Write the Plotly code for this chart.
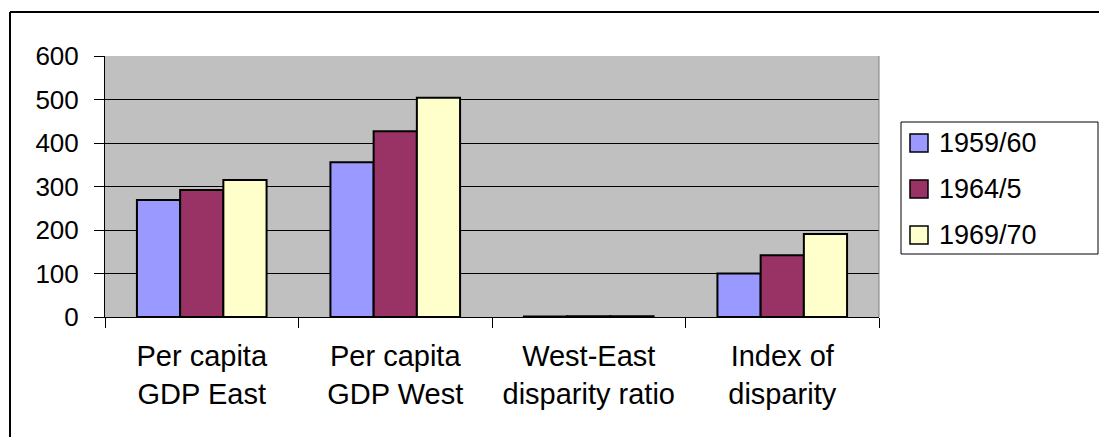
import plotly.graph_objects as go

categories = ["Per capita<br>GDP East", "Per capita<br>GDP West",
              "West-East<br>disparity ratio", "Index of<br>disparity"]
series_names = ["1959/60", "1964/5", "1969/70"]
values_1959 = [269, 356, 1.32, 100]
values_1964 = [292, 427, 1.46, 142]
values_1969 = [315, 504, 1.60, 191]
series_colors = ["#9999FF", "#993366", "#FFFFCC"]
y_ticks = [0, 100, 200, 300, 400, 500, 600]

W, H = 1099, 437
L, R, T, B = 105, 220, 56, 120
PW, PH = W - L - R, H - T - B

FONT = "Liberation Sans, Arial, sans-serif"


def px_x(x):
    return (x - L) / PW


def px_y(y):
    return (H - B - y) / PH


fig = go.Figure()
for name, vals, col in zip(series_names, [values_1959, values_1964, values_1969], series_colors):
    fig.add_trace(go.Bar(
        x=categories, y=vals, name=name,
        marker=dict(color=col, line=dict(color="black", width=2)),
        showlegend=False,
    ))

shapes = []
annotations = []

# outer chart frame (top and left edges)
shapes.append(dict(type="line", xref="paper", yref="paper",
                   x0=px_x(10), x1=px_x(W + 10), y0=px_y(12), y1=px_y(12),
                   line=dict(color="black", width=2)))
shapes.append(dict(type="line", xref="paper", yref="paper",
                   x0=px_x(10), x1=px_x(10), y0=px_y(12), y1=px_y(H + 10),
                   line=dict(color="black", width=2)))

# grey right border of the plot area
shapes.append(dict(type="line", xref="paper", yref="paper", x0=1, x1=1, y0=0, y1=1,
                   line=dict(color="#808080", width=1)))

# legend box with swatches
lx0, lx1, ly0, ly1 = 901, 1098, 122, 254
shapes.append(dict(type="rect", xref="paper", yref="paper",
                   x0=px_x(lx0), x1=px_x(lx1), y0=px_y(ly0), y1=px_y(ly1),
                   line=dict(color="black", width=1), fillcolor="white"))
item_y = [143, 189, 235]
for name, col, cy in zip(series_names, series_colors, item_y):
    shapes.append(dict(type="rect", xref="paper", yref="paper",
                       x0=px_x(910), x1=px_x(928), y0=px_y(cy - 9), y1=px_y(cy + 9),
                       line=dict(color="black", width=1.5), fillcolor=col))
    annotations.append(dict(xref="paper", yref="paper", x=px_x(937), y=px_y(cy),
                            text=name, showarrow=False, xanchor="left", yanchor="middle",
                            font=dict(family=FONT, size=27, color="black")))

fig.update_layout(
    width=W, height=H,
    margin=dict(l=L, r=R, t=T, b=B, pad=0),
    paper_bgcolor="white",
    plot_bgcolor="#C0C0C0",
    barmode="group",
    bargap=0.33,
    bargroupgap=0,
    font=dict(family=FONT, size=26, color="black"),
    shapes=shapes,
    annotations=annotations,
    xaxis=dict(
        showline=True, linecolor="black", linewidth=1,
        ticks="outside", tickson="boundaries", ticklen=10, tickcolor="black",
        showgrid=False, tickfont=dict(size=29), ticklabelstandoff=13,
    ),
    yaxis=dict(
        range=[0, 600], tickvals=y_ticks,
        showline=True, linecolor="black", linewidth=1,
        ticks="outside", ticklen=10, tickcolor="black",
        showgrid=True, gridcolor="black", gridwidth=1,
        zeroline=False, tickfont=dict(size=26), ticklabelstandoff=10,
    ),
)

fig.write_html("out.html")
